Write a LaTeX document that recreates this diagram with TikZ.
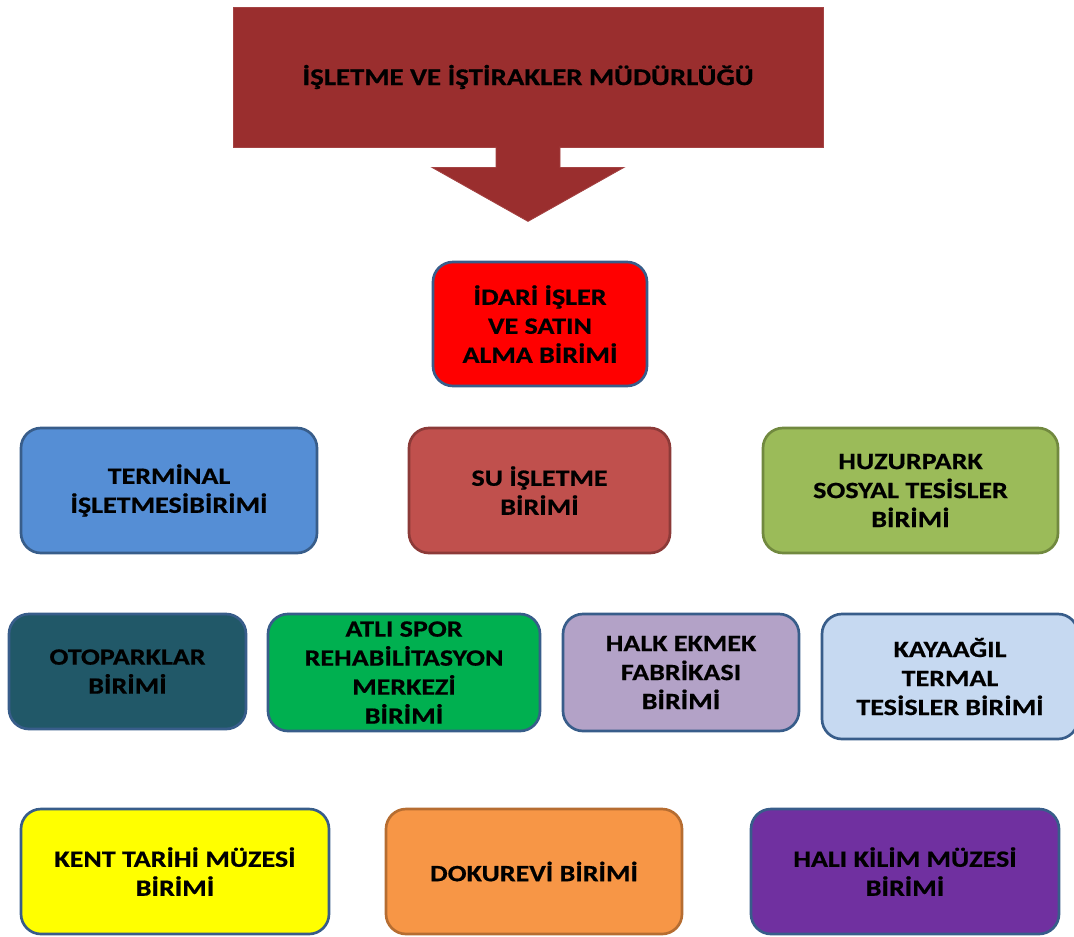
\documentclass[tikz,border=0pt]{standalone}
\usepackage{fontspec}
\setmainfont{Carlito}[FakeStretch=1.2,BoldFeatures={FakeBold=0.6}]
\usetikzlibrary{positioning,calc}
\definecolor{cmud}{HTML}{9A2E2E}
\definecolor{cline}{HTML}{385D8A}
\definecolor{cidari}{HTML}{FF0000}
\definecolor{cterm}{HTML}{558ED5}
\definecolor{csu}{HTML}{C0504D}
\definecolor{csuline}{HTML}{8C3A38}
\definecolor{chuzur}{HTML}{9BBB59}
\definecolor{chuzurline}{HTML}{71893F}
\definecolor{coto}{HTML}{215868}
\definecolor{catli}{HTML}{00B050}
\definecolor{chalk}{HTML}{B3A2C7}
\definecolor{ckaya}{HTML}{C6D9F1}
\definecolor{ckent}{HTML}{FFFF00}
\definecolor{cdoku}{HTML}{F79646}
\definecolor{cdokuline}{HTML}{B66D31}
\definecolor{chali}{HTML}{7030A0}
\tikzset{
  box/.style={draw=cline,line width=2pt,rounded corners=15pt,align=center,inner sep=2pt,
    font=\fontsize{17.5}{21.75}\selectfont\bfseries},
  sz/.style 2 args={minimum width=#1*0.75pt,minimum height=#2*0.75pt}
}

\begin{document}
\begin{tikzpicture}[x=0.75pt,y=-0.75pt]
    \useasboundingbox (0,0) rectangle (1074,936);
    % head of the chart with its arrow
    \node[sz={590}{140},fill=cmud,draw=cmud!90!white,line width=0.6pt,
      font=\fontsize{18}{21.75}\selectfont\bfseries] (mud) at (528,77) {İŞLETME VE İŞTİRAKLER MÜDÜRLÜĞÜ};
    \draw[fill=cmud,draw=cmud!90!white,line width=0.6pt] (mud.south) ++(-32,-1) -- ++(0,21) -- ++(-64,0)
      -- ++(96,54) -- ++(96,-54) -- ++(-64,0) -- ++(0,-21);
    \node[box,sz={214}{124},fill=cidari] (idari) at (540,324) {İDARİ İŞLER\\ VE SATIN\\ ALMA BİRİMİ};
    % second row
    \node[box,sz={296}{125},fill=cterm] (terminal) at (169,490.5) {TERMİNAL\\ İŞLETMESİBİRİMİ};
    \node[box,sz={261}{125},fill=csu,draw=csuline] (su) at (539.5,490.5) {SU İŞLETME\\ BİRİMİ};
    \node[box,sz={295}{125},fill=chuzur,draw=chuzurline] (huzur) at (910.5,490.5) {HUZURPARK\\ SOSYAL TESİSLER\\ BİRİMİ};
    % third row
    \node[box,sz={237}{115},fill=coto] (otopark) at (127.5,671.5) {OTOPARKLAR\\ BİRİMİ};
    \node[box,sz={272}{117},fill=catli] (atli) at (404,672.5) {ATLI SPOR\\ REHABİLİTASYON\\ MERKEZİ\\ BİRİMİ};
    \node[box,sz={236}{117},fill=chalk] (halk) at (681,672.5) {HALK EKMEK\\ FABRİKASI\\ BİRİMİ};
    \node[box,sz={256}{125},fill=ckaya] (kaya) at (950,676.5) {KAYAAĞIL\\ TERMAL\\ TESİSLER BİRİMİ};
    % last row
    \node[box,sz={308}{125},fill=ckent] (kent) at (175,871.5) {KENT TARİHİ MÜZESİ\\ BİRİMİ};
    \node[box,sz={296}{125},fill=cdoku,draw=cdokuline] (doku) at (534,871.5) {DOKUREVİ BİRİMİ};
    \node[box,sz={308}{125},fill=chali] (hali) at (905,871.5) {HALI KİLİM MÜZESİ\\ BİRİMİ};
\end{tikzpicture}
\end{document}
